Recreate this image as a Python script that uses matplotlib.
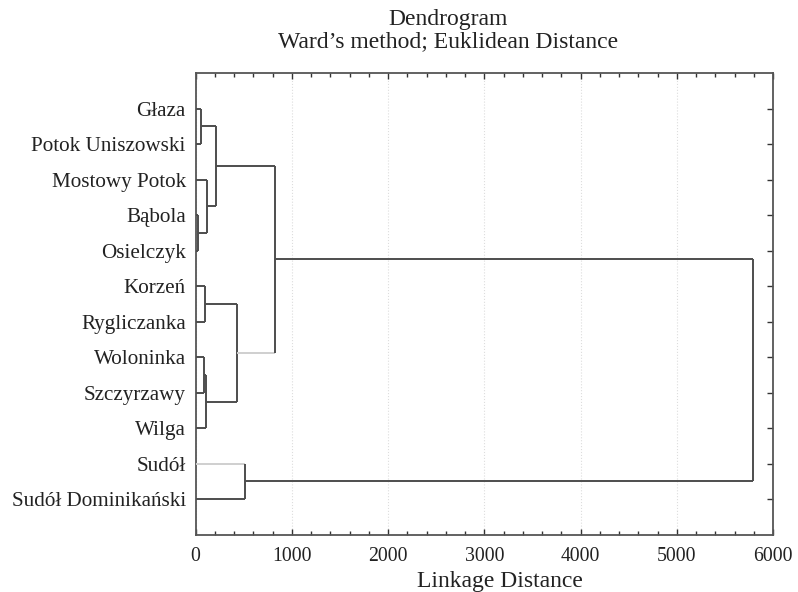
import matplotlib
matplotlib.use("Agg")
import matplotlib.pyplot as plt
from matplotlib.ticker import MultipleLocator

plt.rcParams['font.family'] = ['Liberation Serif', 'DejaVu Serif']

# Leaves in display order (top to bottom)
leaves = ["Głaza", "Potok Uniszowski", "Mostowy Potok", "Bąbola", "Osielczyk",
          "Korzeń", "Rygliczanka", "Woloninka", "Szczyrzawy", "Wilga",
          "Sudół", "Sudół Dominikański"]

# Merges: (left child, right child, linkage distance); ids >= 12 are clusters
merge_left = [0, 3, 2, 12, 5, 7, 17, 16, 15, 10, 20]
merge_right = [1, 4, 13, 14, 6, 8, 9, 18, 19, 11, 21]
merge_height = [57, 29, 116, 210, 102, 88, 109, 434, 826, 514, 5790]

# children whose connecting segment is drawn in light gray
light_children = [10, 19]

dark = "#4d4d4d"
light = "#cfcfcf"

fig = plt.figure(figsize=(7.98, 5.92), dpi=100)
ax = fig.add_axes([0.245, 0.0968, 0.724, 0.7799])

n = len(leaves)
pos = {i: i + 1 for i in range(n)}
hgt = {i: 0.0 for i in range(n)}

for k, (a, b, h) in enumerate(zip(merge_left, merge_right, merge_height)):
    cid = n + k
    for c in (a, b):
        col = light if c in light_children else dark
        ax.plot([hgt[c], h], [pos[c], pos[c]], color=col, lw=1.4, solid_capstyle='butt', zorder=3)
    ax.plot([h, h], [pos[a], pos[b]], color=dark, lw=1.4, solid_capstyle='butt', zorder=3)
    pos[cid] = (pos[a] + pos[b]) / 2
    hgt[cid] = h

ax.set_xlim(0, 6000)
ax.set_ylim(n + 1, 0)
ax.set_xticks(range(0, 6001, 1000))
ax.xaxis.set_minor_locator(MultipleLocator(200))
ax.set_yticks(range(1, n + 1))
ax.set_yticklabels(leaves)
ax.tick_params(axis='x', which='both', direction='in', top=True, bottom=True,
               labelsize=14.2, pad=9, color='#333333', labelcolor='#222222')
ax.tick_params(axis='x', which='major', length=4, width=1)
ax.tick_params(axis='x', which='minor', length=3, width=1)
ax.tick_params(axis='y', which='both', direction='in', left=False, right=True,
               labelsize=15.2, pad=7, length=4, width=1, color='#333333', labelcolor='#222222')
ax.grid(axis='x', which='major', linestyle=':', color='#dddddd', lw=0.8, zorder=0)
for s in ax.spines.values():
    s.set_color('#555555')
    s.set_linewidth(1.3)

fig.text(0.561, 0.967, "Dendrogram", ha='center', va='center', fontsize=17, color='#222222')
fig.text(0.561, 0.929, "Ward’s method; Euklidean Distance", ha='center', va='center', fontsize=17, color='#222222')
fig.text(0.627, 0.018, "Linkage Distance", ha='center', va='center', fontsize=17, color='#222222')

fig.savefig("out.png", dpi=100)
